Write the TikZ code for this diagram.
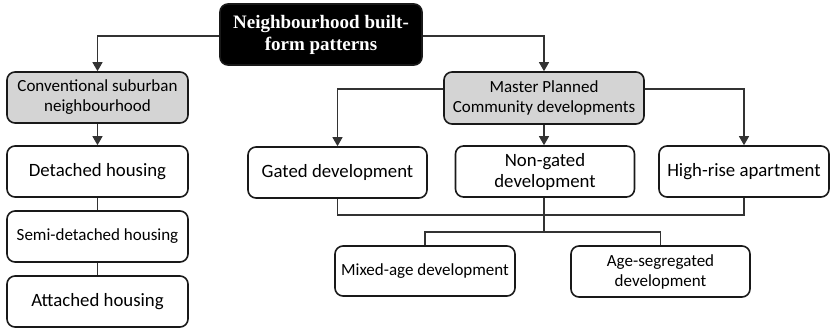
\documentclass[tikz,border=0pt]{standalone}
\usepackage{fontspec}
\setmainfont{Carlito}
\newfontfamily\serifb{Liberation Serif}
\usetikzlibrary{arrows.meta}
\begin{document}
\begin{tikzpicture}[x=1pt,y=-1pt,
  box/.style={draw=black!90,line width=1.6pt,rounded corners=8pt,align=center,inner sep=0pt,font=\fontsize{18.8}{21}\selectfont},
  gbox/.style={box,fill=black!17,font=\fontsize{17}{20}\selectfont},
  sbox/.style={box,font=\fontsize{17}{20}\selectfont},
  conn/.style={line width=1.2pt,draw=black!80},
  arr/.style={conn,-{Triangle[length=9pt,width=10pt]}}]
\useasboundingbox (0,0) rectangle (832,328);
\node[box,fill=black,text=white,font=\serifb\bfseries\fontsize{19}{22}\selectfont,minimum width=202pt,minimum height=61pt] (top) at (321,34.5) {Neighbourhood built-\\form patterns};
\node[gbox,minimum width=181pt,minimum height=51pt] (conv) at (97.5,97.5) {Conventional suburban\\neighbourhood};
\node[box,minimum width=181pt,minimum height=51pt] (det) at (97.5,171.5) {Detached housing};
\node[sbox,minimum width=181pt,minimum height=51pt] (semi) at (97.5,236.5) {Semi-detached housing};
\node[box,minimum width=181pt,minimum height=51pt] (att) at (97.5,301.5) {Attached housing};
\node[gbox,minimum width=200pt,minimum height=52pt] (master) at (544,98) {Master Planned\\Community developments};
\node[box,minimum width=179pt,minimum height=51pt] (gated) at (337.5,172.5) {Gated development};
\node[box,minimum width=179pt,minimum height=51pt] (nongated) at (545,171.5) {Non-gated\\development};
\node[box,minimum width=170pt,minimum height=51pt] (high) at (744,171.5) {High-rise apartment};
\node[sbox,minimum width=180pt,minimum height=50pt] (mixed) at (425,271) {Mixed-age development};
\node[sbox,minimum width=179pt,minimum height=51pt] (ageseg) at (660.5,271.5) {Age-segregated\\development};
\coordinate (b1) at (544,215);
\coordinate (b2) at (544,232);
\draw[arr] ([yshift=-1.5pt]top.west) -| (conv.north);
\draw[arr] ([yshift=-1.5pt]top.east) -| (master.north);
\draw[arr] (conv.south) -- (det.north);
\draw[conn] (det.south) -- (semi.north);
\draw[conn] (semi.south) -- (att.north);
\draw[arr] ([yshift=9pt]master.west) -| (gated.north);
\draw[arr] ([yshift=9pt]master.east) -| (high.north);
\draw[arr] (master.south) -- (master.south |- nongated.north);
\draw[conn] (gated.south) |- (b1) -| (high.south);
\draw[conn] (nongated.south -| b2) -- (b2);
\draw[conn] (mixed.north) |- (b2) -| (ageseg.north);
\end{tikzpicture}
\end{document}
